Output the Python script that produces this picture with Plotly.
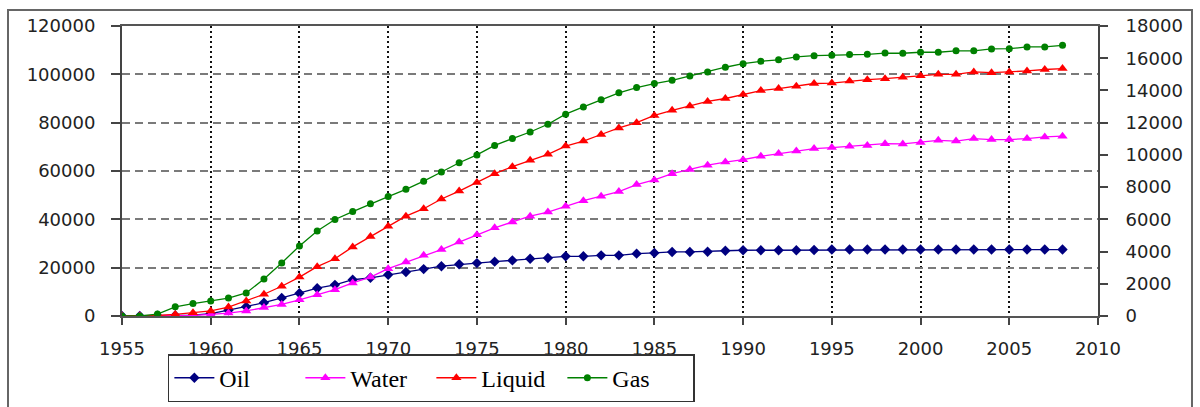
import plotly.graph_objects as go

# Cumulative production by year
years = list(range(1955, 2009))

oil = [0, 0, 100, 200, 400, 1000, 2400, 3800, 5500, 7500,
       9400, 11500, 12900, 15000, 15800, 17100, 18200, 19400, 20600, 21400,
       21900, 22500, 23000, 23700, 24000, 24700, 24700, 25100, 25100, 25800,
       26100, 26500, 26500, 26600, 27000, 27200, 27200, 27200, 27200, 27300,
       27500, 27500, 27500, 27500, 27500, 27500, 27500, 27500, 27500, 27500,
       27500, 27500, 27500, 27500]

water = [0, 0, 0, 100, 200, 700, 1200, 2100, 3500, 4800,
         6700, 8800, 10900, 13700, 16100, 19600, 22300, 25100, 27500, 30600,
         33600, 36500, 38900, 41300, 43000, 45400, 47700, 49600, 51500, 54400,
         56300, 58900, 60600, 62400, 63700, 64700, 66100, 67200, 68300, 69300,
         69700, 70200, 70600, 71300, 71200, 71800, 72700, 72400, 73400, 73000,
         73000, 73400, 74100, 74400]

liquid = [0, 0, 200, 700, 1300, 2100, 3700, 6200, 9000, 12300,
          16100, 20400, 23700, 28600, 32900, 37100, 41300, 44400, 48400, 51700,
          55200, 58900, 61800, 64400, 66900, 70300, 72400, 75100, 77800, 80000,
          83000, 85100, 86900, 88800, 90000, 91700, 93300, 94100, 95100, 96200,
          96400, 97200, 97800, 98200, 98800, 99400, 100000, 100000, 101000, 100700,
          101000, 101400, 102000, 102400]

# Gas is read against the right-hand axis
gas = [0, 0, 120, 570, 770, 930, 1110, 1430, 2300, 3290,
       4350, 5280, 5990, 6480, 6960, 7410, 7860, 8370, 8940, 9510,
       10000, 10590, 11010, 11420, 11900, 12530, 12980, 13430, 13850, 14180,
       14430, 14630, 14900, 15150, 15440, 15660, 15810, 15900, 16080, 16160,
       16190, 16230, 16240, 16320, 16310, 16370, 16370, 16460, 16460, 16580,
       16590, 16700, 16700, 16800]

x_ticks = list(range(1955, 2011, 5))
left_ticks = list(range(0, 120001, 20000))
right_ticks = list(range(0, 18001, 2000))

fig = go.Figure()
fig.add_trace(go.Scatter(x=years, y=oil, name="Oil", mode="lines+markers",
                         line=dict(color="#000080", width=1.3),
                         marker=dict(symbol="diamond", size=8, color="#000080")))
fig.add_trace(go.Scatter(x=years, y=water, name="Water", mode="lines+markers",
                         line=dict(color="#FF00FF", width=1.3),
                         marker=dict(symbol="triangle-up", size=9, color="#FF00FF")))
fig.add_trace(go.Scatter(x=years, y=liquid, name="Liquid", mode="lines+markers",
                         line=dict(color="#FF0000", width=1.3),
                         marker=dict(symbol="triangle-up", size=9, color="#FF0000")))
fig.add_trace(go.Scatter(x=years, y=gas, name="Gas", mode="lines+markers", yaxis="y2",
                         line=dict(color="#008000", width=1.3),
                         marker=dict(symbol="circle", size=7, color="#008000")))

tick_font = dict(family="DejaVu Sans", size=18, color="#222222")

fig.update_layout(
    width=1200, height=407,
    margin=dict(l=122, r=102, t=26, b=91, autoexpand=False),
    paper_bgcolor="white", plot_bgcolor="white",
    showlegend=True,
    legend=dict(orientation="h", x=0.047, y=-0.297, xanchor="left", yanchor="bottom",
                font=dict(family="Liberation Serif", size=24, color="#000000"),
                bordercolor="#333333", borderwidth=1.5, bgcolor="white",
                itemwidth=40, entrywidth=76, tracegroupgap=0),
    xaxis=dict(range=[1955, 2010], tickmode="array", tickvals=x_ticks,
               ticks="outside", ticklen=7, tickwidth=2, tickcolor="#444444",
               showline=True, linecolor="#555555", linewidth=2, mirror=True,
               showgrid=True, gridcolor="#111111", gridwidth=2, griddash="2px,3px",
               zeroline=False, tickfont=tick_font, ticklabelstandoff=8),
    yaxis=dict(range=[0, 120000], tickmode="array", tickvals=left_ticks, tickformat="d",
               ticks="outside", ticklen=9, tickwidth=2, tickcolor="#444444",
               showline=True, linecolor="#444444", linewidth=2,
               showgrid=True, gridcolor="#7a7a7a", gridwidth=2, griddash="8px,5px",
               zeroline=False, tickfont=tick_font, ticklabelstandoff=12),
    yaxis2=dict(range=[0, 18000], tickmode="array", tickvals=right_ticks, tickformat="d",
                overlaying="y", side="right",
                ticks="outside", ticklen=8, tickwidth=2, tickcolor="#444444",
                showline=True, linecolor="#444444", linewidth=2,
                showgrid=False, zeroline=False, tickfont=tick_font, ticklabelstandoff=14),
)

# Outer frame around the whole chart
fig.add_shape(type="rect", xref="paper", yref="paper",
              x0=-0.1168, x1=1.0963, y0=-0.33, y1=1.055,
              line=dict(color="#666666", width=2), fillcolor="rgba(0,0,0,0)", layer="below")

fig.write_html("out.html")
